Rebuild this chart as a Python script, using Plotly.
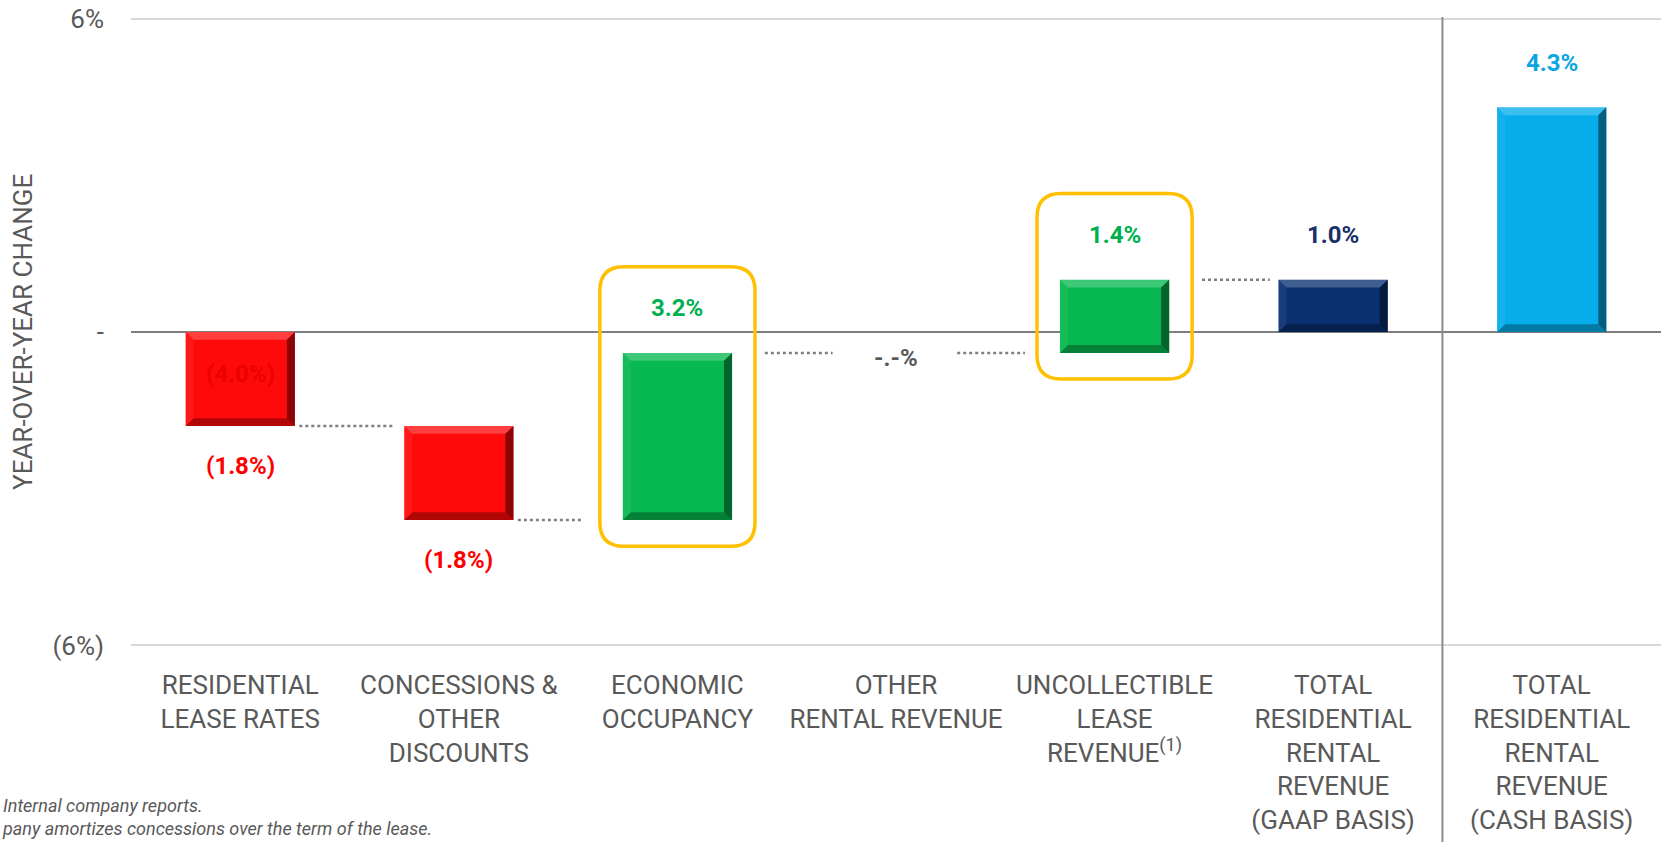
import plotly.graph_objects as go

# waterfall data (year-over-year change, %)
categories = [
    "RESIDENTIAL<br>LEASE RATES",
    "CONCESSIONS &<br>OTHER<br>DISCOUNTS",
    "ECONOMIC<br>OCCUPANCY",
    "OTHER<br>RENTAL REVENUE",
    "UNCOLLECTIBLE<br>LEASE<br>REVENUE<sup>(1)</sup>",
    "TOTAL<br>RESIDENTIAL<br>RENTAL<br>REVENUE<br>(GAAP BASIS)",
    "TOTAL<br>RESIDENTIAL<br>RENTAL<br>REVENUE<br>(CASH BASIS)",
]
changes = [-1.8, -1.8, 3.2, 0.0, 1.4, 1.0, 4.3]
bases = [0.0, -1.8, -3.6, -0.4, -0.4, 0.0, 0.0]
labels = ["(1.8%)", "(1.8%)", "3.2%", "-.-%", "1.4%", "1.0%", "4.3%"]
hidden_label = "(4.0%)"
highlighted = [2, 4]
y_ticks = [-6, 0, 6]
y_tick_text = ["(6%)", "-", "6%"]

bar_colors = ["#FF0A0A", "#FF0A0A", "#08B850", "rgba(0,0,0,0)", "#08B850", "#0A3070", "#05AEEA"]
label_colors = ["#FF0000", "#FF0000", "#00B050", "#595959", "#00B050", "#1A2F6A", "#0BA6E2"]

FONT = "Roboto, Liberation Sans, sans-serif"
GRAY = "#595959"
BAR_W = 0.5

x = list(range(len(categories)))

fig = go.Figure()
fig.add_trace(go.Bar(
    x=x, y=changes, base=bases, width=BAR_W,
    marker=dict(color=bar_colors, line=dict(width=0)),
    hoverinfo="skip",
))

ends = [b + c for b, c in zip(bases, changes)]

# bevel look on each bar
dx, dy = 0.037, 0.15
for i in x:
    if changes[i] == 0:
        continue
    x0, x1 = x[i] - BAR_W / 2, x[i] + BAR_W / 2
    y0, y1 = min(bases[i], ends[i]), max(bases[i], ends[i])
    faces = [
        ([(x0, y1), (x1, y1), (x1 - dx, y1 - dy), (x0 + dx, y1 - dy)], "rgba(255,255,255,0.22)"),
        ([(x0, y1), (x0 + dx, y1 - dy), (x0 + dx, y0 + dy), (x0, y0)], "rgba(255,255,255,0.06)"),
        ([(x1, y1), (x1, y0), (x1 - dx, y0 + dy), (x1 - dx, y1 - dy)], "rgba(0,0,0,0.45)"),
        ([(x0, y0), (x1, y0), (x1 - dx, y0 + dy), (x0 + dx, y0 + dy)], "rgba(0,0,0,0.30)"),
    ]
    for pts, col in faces:
        path = "M " + " L ".join(f"{px},{py}" for px, py in pts) + " Z"
        fig.add_shape(type="path", path=path, xref="x", yref="y",
                      fillcolor=col, line=dict(width=0), layer="above")

# dotted connectors between consecutive bars
spans = [(0.27, 0.70), (1.27, 1.57), (2.40, 2.71), (3.28, 3.59), (4.40, 4.71)]
for i, (a, b) in enumerate(spans):
    fig.add_trace(go.Scatter(
        x=[a, b], y=[ends[i], ends[i]], mode="lines",
        line=dict(color="#7F7F7F", width=2.5, dash="dot"),
        hoverinfo="skip",
    ))

# value labels
for i, lab in enumerate(labels):
    top = max(bases[i], ends[i])
    bot = min(bases[i], ends[i])
    if changes[i] > 0:
        yy = top + 0.85
    elif changes[i] < 0:
        yy = bot - 0.76
    else:
        yy = bot - 0.1
    fig.add_annotation(x=x[i], y=yy, text="<b>%s</b>" % lab, showarrow=False,
                       font=dict(family=FONT, size=24, color=label_colors[i]))

fig.add_annotation(x=x[0], y=(bases[0] + ends[0]) / 2 + 0.1, text="<b>%s</b>" % hidden_label,
                   showarrow=False, font=dict(family=FONT, size=24, color="#EC0000"))

# rounded yellow boxes around highlighted bars
for i in highlighted:
    x0, x1 = x[i] - 0.355, x[i] + 0.355
    y0 = min(bases[i], ends[i]) - 0.5
    y1 = max(bases[i], ends[i]) + 1.65
    rx, ry = 0.11, 0.46
    path = (f"M {x0+rx},{y1} L {x1-rx},{y1} Q {x1},{y1} {x1},{y1-ry} "
            f"L {x1},{y0+ry} Q {x1},{y0} {x1-rx},{y0} "
            f"L {x0+rx},{y0} Q {x0},{y0} {x0},{y0+ry} "
            f"L {x0},{y1-ry} Q {x0},{y1} {x0+rx},{y1} Z")
    fig.add_shape(type="path", path=path, xref="x", yref="y",
                  line=dict(color="#FFC000", width=3.5))

# divider between GAAP and cash totals
fig.add_shape(type="line", xref="x", yref="paper", x0=5.5, x1=5.5, y0=-0.33, y1=1.0,
              line=dict(color="#8C8C8C", width=2))

fig.add_annotation(xref="paper", yref="paper", x=-0.0706, y=0.5, text="YEAR-OVER-YEAR CHANGE",
                   textangle=-90, showarrow=False, xanchor="center", yanchor="middle",
                   font=dict(family=FONT, size=26, color=GRAY))

fig.add_annotation(xref="paper", yref="paper", x=-0.0856, y=-0.231, xanchor="left", yanchor="top",
                   align="left", showarrow=False,
                   text="<i>Internal company reports.</i><br><i>pany amortizes concessions over the term of the lease.</i>",
                   font=dict(family=FONT, size=18, color=GRAY))

fig.update_layout(
    width=1665, height=842,
    margin=dict(l=131, r=4, t=17, b=195),
    plot_bgcolor="white", paper_bgcolor="white",
    showlegend=False,
    font=dict(family=FONT, color=GRAY),
)
fig.update_xaxes(range=[-0.5, 6.5], tickvals=x, ticktext=categories, showgrid=False,
                 zeroline=False, ticks="", ticklabelstandoff=20, tickangle=0, automargin=False,
                 tickfont=dict(family=FONT, size=26, color=GRAY))
fig.update_yaxes(range=[-6.03, 6.03], tickvals=y_ticks, ticktext=y_tick_text,
                 gridcolor="#D9D9D9", gridwidth=2, automargin=False,
                 zeroline=True, zerolinecolor="#7F7F7F", zerolinewidth=2,
                 ticks="", ticklabelstandoff=26,
                 tickfont=dict(family=FONT, size=26, color=GRAY))

fig.write_html("out.html", config={"displayModeBar": False},
               post_script="document.body.style.margin='0';")
